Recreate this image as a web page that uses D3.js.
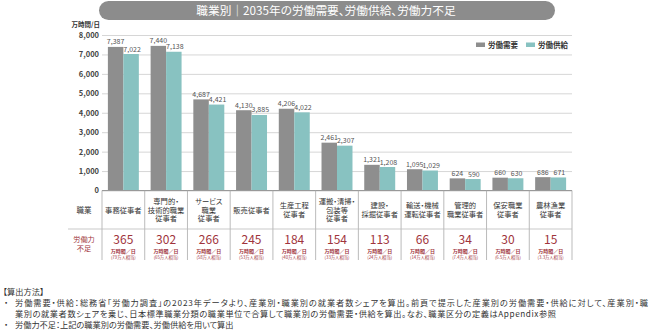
<!DOCTYPE html>
<html>
<head>
<meta charset="utf-8">
<script src="https://cdn.jsdelivr.net/npm/d3@7"></script>
<style>
  body { margin: 0; background: #fff; }
  text { font-family: "Noto Sans CJK JP", "Noto Sans", sans-serif; font-feature-settings: "palt"; }
</style>
</head>
<body>
<svg id="chart" width="654" height="336"></svg>
<script>
const categories = [
  ["事務従事者"],
  ["専門的・", "技術的職業", "従事者"],
  ["サービス", "職業", "従事者"],
  ["販売従事者"],
  ["生産工程", "従事者"],
  ["運搬・清掃・", "包装等", "従事者"],
  ["建設・", "採掘従事者"],
  ["輸送・機械", "運転従事者"],
  ["管理的", "職業従事者"],
  ["保安職業", "従事者"],
  ["農林漁業", "従事者"]
];
const demand = [7387, 7440, 4687, 4130, 4206, 2461, 1321, 1095, 624, 660, 686];
const supply = [7022, 7138, 4421, 3885, 4022, 2307, 1208, 1029, 590, 630, 671];
const shortage = [365, 302, 266, 245, 184, 154, 113, 66, 34, 30, 15];
const shortagePeople = ["79", "65", "58", "53", "40", "33", "24", "14", "7.4", "6.5", "3.3"];
const yTicks = [0, 1000, 2000, 3000, 4000, 5000, 6000, 7000, 8000];
const seriesNames = ["労働需要", "労働供給"];

const colors = { "労働需要": "#8e8e8e", "労働供給": "#88c2c1" };
const red = "#a0343c";

const svg = d3.select("#chart");
const plotLeft = 102, plotRight = 572, plotTop = 35, base = 190.5;

const x = d3.scaleBand().domain(d3.range(categories.length)).range([plotLeft, plotRight]);
const xs = d3.scaleBand().domain(seriesNames).range([0, x.bandwidth()]).paddingOuter(0.38);
const y = d3.scaleLinear().domain([0, 8000]).range([base, plotTop]);
const fmt = d3.format(",");

// title pill
svg.append("rect")
  .attr("x", 99).attr("y", 1).attr("width", 456).attr("height", 19)
  .attr("rx", 9.5).attr("fill", "#8c8c8c");
svg.append("text")
  .attr("x", 326).attr("y", 14.8).attr("text-anchor", "middle")
  .attr("fill", "#fff").attr("font-size", 11.7)
  .text("職業別｜2035年の労働需要、労働供給、労働力不足");

// unit
svg.append("text")
  .attr("x", 100).attr("y", 26.5).attr("text-anchor", "end")
  .attr("font-size", 6.5).attr("fill", "#333").attr("font-weight", 700)
  .text("万時間/日");

// grid + y labels
const yAxis = d3.axisLeft(y).tickValues(yTicks).tickFormat(fmt).tickSize(-(plotRight - plotLeft)).tickPadding(3);
const gy = svg.append("g").attr("transform", `translate(${plotLeft},0)`).call(yAxis);
gy.select(".domain").remove();
gy.selectAll(".tick line").attr("stroke", "#d6d6d6").attr("stroke-width", 1);
gy.selectAll(".tick text")
  .attr("font-family", "'Noto Sans', sans-serif")
  .attr("font-size", 7.5).attr("font-weight", 700).attr("fill", "#444");

// bars
const groups = svg.append("g").selectAll("g")
  .data(d3.range(categories.length))
  .join("g")
  .attr("transform", i => `translate(${x(i)},0)`);

const rows = i => [
  { key: "労働需要", v: demand[i] },
  { key: "労働供給", v: supply[i] }
];

groups.selectAll("rect")
  .data(rows)
  .join("rect")
  .attr("x", d => xs(d.key))
  .attr("y", d => y(d.v))
  .attr("width", xs.bandwidth())
  .attr("height", d => base - y(d.v))
  .attr("fill", d => colors[d.key]);

groups.selectAll("text.val")
  .data(rows)
  .join("text")
  .attr("class", "val")
  .attr("x", d => xs(d.key) + xs.bandwidth() / 2 + (d.key === "労働供給" ? 1 : 0))
  .attr("y", d => y(d.v) - 2.5)
  .attr("text-anchor", "middle")
  .attr("font-family", "'Noto Sans', sans-serif")
  .attr("font-size", 7).attr("fill", "#555")
  .text(d => fmt(d.v));

// baseline
svg.append("line")
  .attr("x1", plotLeft).attr("x2", plotRight).attr("y1", base).attr("y2", base)
  .attr("stroke", "#999").attr("stroke-width", 1);

// legend
const legend = svg.append("g").attr("transform", "translate(476,45)");
const lx = [0, 50];
seriesNames.forEach((s, k) => {
  legend.append("rect").attr("x", lx[k]).attr("y", -2.5).attr("width", 9).attr("height", 4.5).attr("fill", colors[s]);
  legend.append("text").attr("x", lx[k] + 12).attr("y", 3)
    .attr("font-size", 7.5).attr("font-weight", 700).attr("fill", "#333").text(s);
});

// table below the chart
const table = svg.append("g");
x.domain().concat([categories.length]).forEach(i => {
  const xx = i < categories.length ? x(i) : plotRight;
  table.append("line")
    .attr("x1", xx).attr("x2", xx).attr("y1", base).attr("y2", 260)
    .attr("stroke", "#aaa").attr("stroke-width", 0.8);
});
table.append("line")
  .attr("x1", 68).attr("x2", plotRight).attr("y1", 229).attr("y2", 229)
  .attr("stroke", "#bbb").attr("stroke-width", 0.8);

table.append("text")
  .attr("x", 84).attr("y", 212.5).attr("text-anchor", "middle")
  .attr("font-size", 7.5).attr("fill", "#333").text("職業");

const lh = 8.6;
categories.forEach((lines, i) => {
  const t = table.append("text")
    .attr("text-anchor", "middle").attr("font-size", 7.3).attr("fill", "#333");
  lines.forEach((ln, k) => {
    t.append("tspan")
      .attr("x", x(i) + x.bandwidth() / 2)
      .attr("y", 212.5 + (k - (lines.length - 1) / 2) * lh)
      .text(ln);
  });
});

// row label as one text block with two lines
const sl = table.append("text")
  .attr("text-anchor", "middle").attr("font-size", 7.2).attr("fill", red);
["労働力", "不足"].forEach((s, k) => {
  sl.append("tspan").attr("x", 84).attr("y", 241.5 + k * 9.2).text(s);
});

shortage.forEach((v, i) => {
  const cx = x(i) + x.bandwidth() / 2;
  table.append("text")
    .attr("x", cx).attr("y", 244).attr("text-anchor", "middle")
    .attr("font-family", "'Noto Sans', sans-serif")
    .attr("font-size", 12).attr("fill", red).text(v);
  table.append("text")
    .attr("x", cx).attr("y", 252.6).attr("text-anchor", "middle")
    .attr("font-size", 5).attr("font-weight", 700).attr("fill", red).text("万時間／日");
  table.append("text")
    .attr("x", cx).attr("y", 259.2).attr("text-anchor", "middle")
    .attr("font-size", 4.3).attr("fill", red).text(`(${shortagePeople[i]}万人相当)`);
});

// notes
const notes = svg.append("g").attr("font-size", 8.2).attr("fill", "#333");
notes.append("text").attr("x", 3).attr("y", 294.5).text("【算出方法】");
const noteLines = [
  { b: true, w: 633, s: "労働需要・供給：総務省「労働力調査」の2023年データより、産業別・職業別の就業者数シェアを算出。前頁で提示した産業別の労働需要・供給に対して、産業別・職" },
  { b: false, w: 541, s: "業別の就業者数シェアを乗じ、日本標準職業分類の職業単位で合算して職業別の労働需要・供給を算出。なお、職業区分の定義はAppendix参照" },
  { b: true, w: null, s: "労働力不足：上記の職業別の労働需要、労働供給を用いて算出" }
];
const noteY = [306, 316.5, 328];
noteLines.forEach((n, k) => {
  if (n.b) notes.append("text").attr("x", 4).attr("y", noteY[k]).text("・");
  const t = notes.append("text").attr("x", 15).attr("y", noteY[k]).text(n.s);
  if (n.w) t.attr("textLength", n.w).attr("lengthAdjust", "spacing");
});
</script>
</body>
</html>
